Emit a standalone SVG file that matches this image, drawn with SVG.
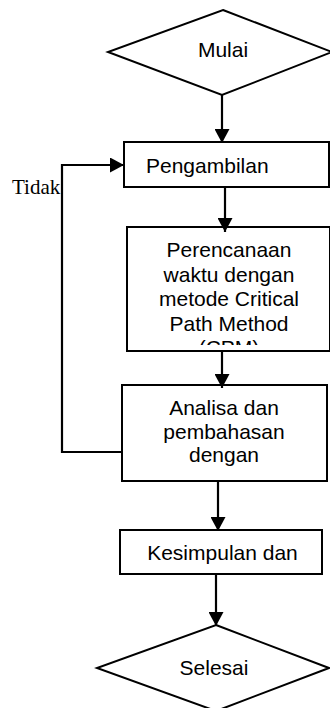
<svg xmlns="http://www.w3.org/2000/svg" width="330" height="708" viewBox="0 0 330 708">
<style>
.shape{fill:#fff;stroke:#000;stroke-width:2}
.lbl{font-family:"Liberation Sans",Arial,sans-serif;font-size:21px;fill:#000}
.mid{text-anchor:middle}
.conn{fill:none;stroke:#000;stroke-width:2.2}
.serif{font-family:"Liberation Serif","Times New Roman",serif;font-size:21px;fill:#000}
</style>
<defs>
<marker id="arrow" viewBox="0 0 14 15" refX="14" refY="7.5" markerWidth="14" markerHeight="15" markerUnits="userSpaceOnUse" orient="auto">
<path d="M0,0 L14,7.5 L0,15 Z" fill="#000"/>
</marker>
<clipPath id="clip3"><rect x="127" y="227" width="203" height="118"/></clipPath>
</defs>
<rect width="330" height="708" fill="#fff"/>
<g id="mulai">
<polygon class="shape" points="223,10 332,52 222,95 108,52"/>
<text class="lbl mid" x="223" y="57">Mulai</text>
</g>
<g id="pengambilan">
<rect class="shape" x="124" y="142" width="205" height="45"/>
<text class="lbl" x="146" y="173">Pengambilan</text>
</g>
<g id="perencanaan">
<rect class="shape" x="127" y="227" width="203" height="124"/>
<g clip-path="url(#clip3)">
<text class="lbl mid" x="229" y="257">Perencanaan</text>
<text class="lbl mid" x="229" y="281.5">waktu dengan</text>
<text class="lbl mid" x="229" y="306">metode Critical</text>
<text class="lbl mid" x="229" y="330.5">Path Method</text>
<text class="lbl mid" x="229" y="355">(CPM)</text>
</g>
</g>
<g id="analisa">
<rect class="shape" x="122" y="385" width="205" height="96"/>
<text class="lbl mid" x="224" y="415">Analisa dan</text>
<text class="lbl mid" x="224" y="438.5">pembahasan</text>
<text class="lbl mid" x="224" y="462">dengan</text>
</g>
<g id="kesimpulan">
<rect class="shape" x="120" y="530" width="202" height="44"/>
<text class="lbl mid" x="222.5" y="560">Kesimpulan dan</text>
</g>
<g id="selesai">
<polygon class="shape" points="216,625 329,668 216,711 97,668"/>
<text class="lbl mid" x="214" y="675">Selesai</text>
</g>
<g id="connectors">
<line class="conn" x1="222" y1="95" x2="222" y2="143" marker-end="url(#arrow)"/>
<line class="conn" x1="225" y1="187" x2="225" y2="232" marker-end="url(#arrow)"/>
<line class="conn" x1="222" y1="351" x2="222" y2="388" marker-end="url(#arrow)"/>
<line class="conn" x1="218" y1="481" x2="218" y2="531" marker-end="url(#arrow)"/>
<line class="conn" x1="216" y1="574" x2="216" y2="626" marker-end="url(#arrow)"/>
<polyline class="conn" points="122,452 62,452 62,165 124,165" marker-end="url(#arrow)"/>
<text class="serif" x="12" y="194">Tidak</text>
</g>
</svg>
